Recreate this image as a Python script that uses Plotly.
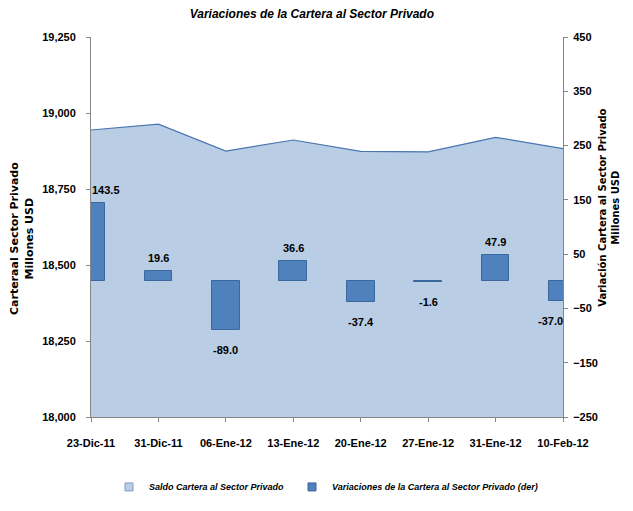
import plotly.graph_objects as go

fechas = ["23-Dic-11", "31-Dic-11", "06-Ene-12", "13-Ene-12", "20-Ene-12", "27-Ene-12", "31-Ene-12", "10-Feb-12"]
saldo = [18944.0, 18963.6, 18874.6, 18911.2, 18873.8, 18872.2, 18920.1, 18883.1]
variaciones = [143.5, 19.6, -89.0, 36.6, -37.4, -1.6, 47.9, -37.0]

FONT = "Liberation Sans, Arial"
AREA_FILL = "#B9CDE5"
AREA_LINE = "#4A76B0"
BAR_FILL = "#4F81BD"
BAR_LINE = "#3A679E"
x = list(range(len(fechas)))
n = len(fechas)

fig = go.Figure()
fig.add_trace(go.Scatter(
    x=x, y=saldo, mode="lines", fill="tozeroy",
    line=dict(color=AREA_LINE, width=1.2),
    fillcolor=AREA_FILL, showlegend=False, yaxis="y",
))
fig.add_trace(go.Bar(
    x=x, y=variaciones, width=0.41,
    marker=dict(color=BAR_FILL, line=dict(color=BAR_LINE, width=1)),
    showlegend=False, yaxis="y2",
))
# legend-only entries (square keys)
fig.add_trace(go.Scatter(
    x=[None], y=[None], mode="markers",
    marker=dict(symbol="square", size=8, color=AREA_FILL, line=dict(color="#7F9CC4", width=1)),
    name="Saldo Cartera al Sector Privado", legend="legend",
))
fig.add_trace(go.Scatter(
    x=[None], y=[None], mode="markers",
    marker=dict(symbol="square", size=8, color=BAR_FILL, line=dict(color=BAR_LINE, width=1)),
    name="Variaciones de la Cartera al Sector Privado (der)", legend="legend2",
))

for i, v in enumerate(variaciones):
    xs = 0
    if i == 0:
        xs = 15
    elif i == n - 1:
        xs = -13
    fig.add_annotation(
        x=i, y=v, yref="y2", xref="x",
        text=f"{v:.1f}", showarrow=False,
        xshift=xs, yshift=13 if v >= 0 else -20,
        font=dict(family=FONT, size=11, color="#000000", weight="bold"),
    )

fig.add_annotation(
    xref="paper", yref="paper", x=-0.147, y=0.47, xanchor="center", yanchor="middle",
    text="Carteraal Sector Privado<br>Millones USD", textangle=-90, showarrow=False,
    font=dict(family="DejaVu Sans, Verdana", size=11, color="#000000", weight="bold"),
)
fig.add_annotation(
    xref="paper", yref="paper", x=1.097, y=0.55, xanchor="center", yanchor="middle",
    text="Variación Cartera al Sector Privado<br>Millones USD", textangle=-90, showarrow=False,
    font=dict(family="DejaVu Sans, Verdana", size=10, color="#000000", weight="bold"),
)

legfont = dict(family=FONT, size=9, color="#000000", weight="bold", style="italic")
fig.update_layout(
    width=633, height=511,
    margin=dict(l=83, r=78, t=29, b=102),
    paper_bgcolor="white", plot_bgcolor="white",
    title=dict(
        text="Variaciones de la Cartera al Sector Privado",
        x=0.48, xanchor="center", y=0.988, yanchor="middle",
        font=dict(family=FONT, size=12, color="#000000", weight="bold", style="italic"),
    ),
    xaxis=dict(
        range=[0, n - 1], tickvals=x, ticktext=fechas,
        showline=True, linecolor="#868686", linewidth=1,
        ticks="outside", ticklen=4, tickcolor="#868686",
        showgrid=False, zeroline=False, ticklabelstandoff=12,
        tickfont=dict(family=FONT, size=11, color="#000000", weight="bold"),
    ),
    yaxis=dict(
        range=[18000, 19250], tickvals=[18000, 18250, 18500, 18750, 19000, 19250],
        tickformat=",.0f",
        showline=True, linecolor="#868686", linewidth=1,
        ticks="outside", ticklen=4, tickcolor="#868686",
        showgrid=False, zeroline=False, ticklabelstandoff=8,
        tickfont=dict(family=FONT, size=11, color="#000000", weight="bold"),
    ),
    yaxis2=dict(
        range=[-250, 450], tickvals=[-250, -150, -50, 50, 150, 250, 350, 450],
        overlaying="y", side="right",
        showline=True, linecolor="#868686", linewidth=1,
        ticks="outside", ticklen=4, tickcolor="#868686",
        showgrid=False, zeroline=False, ticklabelstandoff=3,
        tickfont=dict(family=FONT, size=11, color="#000000", weight="bold"),
    ),
    legend=dict(
        x=(109 - 91) / 472, xanchor="left", y=-0.184, yanchor="middle",
        font=legfont, itemwidth=30, bgcolor="rgba(0,0,0,0)",
    ),
    legend2=dict(
        x=(292 - 91) / 472, xanchor="left", y=-0.184, yanchor="middle",
        font=legfont, itemwidth=30, bgcolor="rgba(0,0,0,0)",
    ),
    bargap=0,
)

fig.write_html("out.html")
